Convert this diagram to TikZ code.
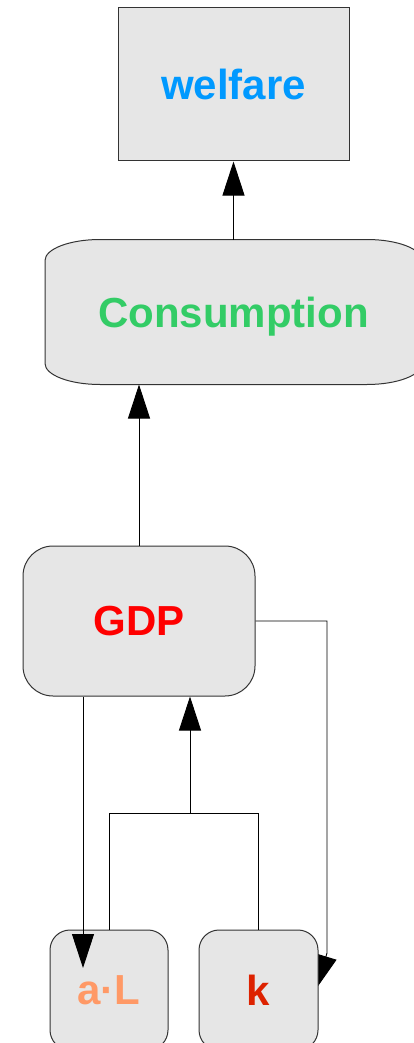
\documentclass[tikz,border=0pt]{standalone}
\usepackage{fontspec}
\setmainfont{Liberation Sans}
\usetikzlibrary{arrows.meta, backgrounds}

\definecolor{boxfill}{HTML}{E6E6E6}
\definecolor{boxedge}{HTML}{333333}
\definecolor{welfarecol}{HTML}{0099FF}
\definecolor{conscol}{HTML}{33CC66}
\definecolor{gdpcol}{HTML}{FF0000}
\definecolor{alcol}{HTML}{FF9966}
\definecolor{kcol}{HTML}{DD2200}

\begin{document}
\begin{tikzpicture}[x=1pt, y=1pt]
    % Styles
    \tikzset{
        varbox/.style = {draw=boxedge, line width=1pt, fill=boxfill, inner sep=0pt, align=center,
                         text depth=0pt, font=\fontsize{42}{50}\selectfont\bfseries},
        roundbox/.style = {varbox, rounded corners=#1},
        link/.style = {line width=0.9pt},
        arrow/.style = {link, -{Triangle[length=34pt, width=22pt]}}
    }
    \useasboundingbox (0,0) rectangle (414,-1043);

    % Nodes
    \node[varbox, minimum width=231pt, minimum height=153pt, text=welfarecol] (welfare) at (233.5,-84.5) {welfare};
    \node[varbox, draw=none, fill=none, minimum width=376pt, minimum height=144pt, text=conscol] (cons) at (233.5,-312) {Consumption};
    \node[roundbox=30pt, minimum width=232pt, minimum height=150pt, text=gdpcol] (gdp) at (139,-621) {GDP};
    \node[roundbox=20pt, minimum width=118pt, minimum height=120pt, text=alcol] (al) at (109,-990) {a·L};

    % Consumption box (wide oval corners)
    \begin{pgfonlayer}{background}
        \draw[draw=boxedge, line width=1pt, fill=boxfill]
            ([xshift=55pt]cons.north west) -- ([xshift=-55pt]cons.north east)
            arc[start angle=90, end angle=0, x radius=55pt, y radius=21pt]
            -- ([yshift=21pt]cons.south east)
            arc[start angle=0, end angle=-90, x radius=55pt, y radius=21pt]
            -- ([xshift=55pt]cons.south west)
            arc[start angle=270, end angle=180, x radius=55pt, y radius=21pt]
            -- ([yshift=-21pt]cons.north west)
            arc[start angle=180, end angle=90, x radius=55pt, y radius=21pt]
            -- cycle;
    \end{pgfonlayer}

    % Helper points
    \coordinate (fork) at (190,-813);
    \coordinate (alin) at ([shift={(-26,22)}]al.center);
    \coordinate (kbend) at (327,-953);
    \coordinate (kin) at (316,-989);

    % Arrows
    \draw[arrow] (cons.north) -- (welfare.south);
    \draw[arrow] (gdp.north) -- (gdp.north |- cons.south);
    \draw[arrow] (gdp.south -| alin) -- (alin);
    \draw[arrow] (gdp.east) -| (kbend) -- (kin);
    \draw[arrow] (fork) -- (fork |- gdp.south);

    % k sits over its incoming arrow
    \node[roundbox=20pt, minimum width=119pt, minimum height=120pt, text=kcol] (k) at (258.5,-990) {k};
    \draw[link] (al.north) |- (fork) -| (k.north);
\end{tikzpicture}
\end{document}
